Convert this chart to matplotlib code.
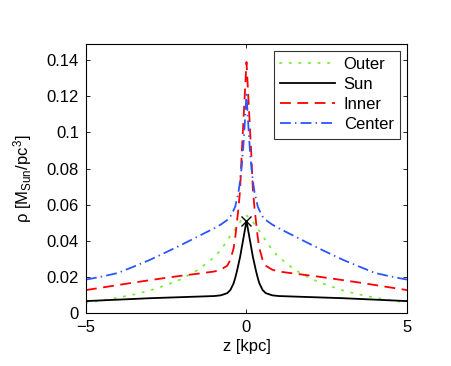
import numpy as np
import matplotlib
matplotlib.use("Agg")
import matplotlib.pyplot as plt

plt.rcParams['font.family'] = ['Liberation Sans', 'DejaVu Sans']
plt.rcParams['mathtext.default'] = 'regular'

# z >= 0 half (curves are symmetric about z = 0)
z_half = [0, 0.05, 0.1, 0.15, 0.2, 0.25, 0.3, 0.35, 0.4, 0.5, 0.6, 0.8, 1.0,
          1.5, 2.0, 2.5, 3.0, 3.5, 4.0, 4.5, 5.0]
outer_half = [0.054, 0.0532, 0.0525, 0.0515, 0.0505, 0.049, 0.0478, 0.0466, 0.0455,
              0.043, 0.040, 0.035, 0.031, 0.024, 0.019, 0.0155, 0.0125, 0.0103,
              0.0085, 0.0070, 0.0057]
sun_half = [0.051, 0.046, 0.041, 0.036, 0.031, 0.027, 0.023, 0.0195, 0.0165, 0.0128,
            0.0110, 0.0098, 0.0094, 0.0091, 0.0088, 0.0085, 0.0082, 0.0078, 0.0074,
            0.0070, 0.0066]
inner_half = [0.139, 0.122, 0.105, 0.088, 0.068, 0.058, 0.050, 0.042, 0.036, 0.0295,
              0.0262, 0.0240, 0.0230, 0.0218, 0.0207, 0.0195, 0.0182, 0.0169, 0.0155,
              0.0141, 0.0127]
center_half = [0.121, 0.106, 0.092, 0.081, 0.073, 0.067, 0.063, 0.059, 0.057, 0.0535,
               0.0515, 0.049, 0.047, 0.0425, 0.038, 0.0337, 0.0295, 0.0258, 0.0222,
               0.0202, 0.0185]
sun_peak = (0.0, 0.051)

labels = ['Outer', 'Sun', 'Inner', 'Center']
yticks = [0, 0.02, 0.04, 0.06, 0.08, 0.1, 0.12, 0.14]
ytick_labels = ['0', '0.02', '0.04', '0.06', '0.08', '0.1', '0.12', '0.14']
xticks = [-5, 0, 5]
xtick_labels = ['\u22125', '0', '5']


def full(h):
    h = np.asarray(h, dtype=float)
    return np.concatenate([h[::-1], h[1:]])


zh = np.asarray(z_half, dtype=float)
z = np.concatenate([-zh[::-1], zh[1:]])

fig = plt.figure(figsize=(4.51, 3.66), dpi=100)
ax = fig.add_axes([0.1907, 0.1448, 0.7117, 0.735])

lw = 1.3
ax.plot(z, full(outer_half), color='#77ee33', lw=lw, linestyle=(0, (0.8, 4.5)),
        dash_capstyle='round', label=labels[0])
ax.plot(z, full(sun_half), color='black', lw=lw, linestyle='-', label=labels[1])
ax.plot(z, full(inner_half), color='#ff0000', lw=lw, linestyle=(0, (6, 3.6)), label=labels[2])
ax.plot(z, full(center_half), color='#2a55ff', lw=lw, linestyle=(0, (6, 2.3, 0.8, 2.3)),
        label=labels[3])
ax.plot([sun_peak[0]], [sun_peak[1]], marker='x', color='black', ms=7, mew=1.0, ls='none')

ax.set_xlim(-5, 5)
ax.set_ylim(0, 0.149)
ax.set_xticks(xticks)
ax.set_xticklabels(xtick_labels)
ax.set_yticks(yticks)
ax.set_yticklabels(ytick_labels)
ax.tick_params(direction='in', length=3, width=0.6, top=True, right=True, labelsize=12,
               pad=5)
for s in ax.spines.values():
    s.set_linewidth(0.8)
    s.set_color('black')

ax.set_xlabel('z [kpc]', fontsize=12, labelpad=3)
ax.set_ylabel(r'ρ [M$_{Sun}$/pc$^3$]', fontsize=12, labelpad=9)

leg = ax.legend(loc='upper right', fontsize=12, frameon=True, fancybox=False,
                edgecolor='black', borderaxespad=0.4, handlelength=3.3,
                handletextpad=0.5, labelspacing=0.3, borderpad=0.4)
leg.get_frame().set_linewidth(0.8)

fig.savefig('out.png', dpi=100)
